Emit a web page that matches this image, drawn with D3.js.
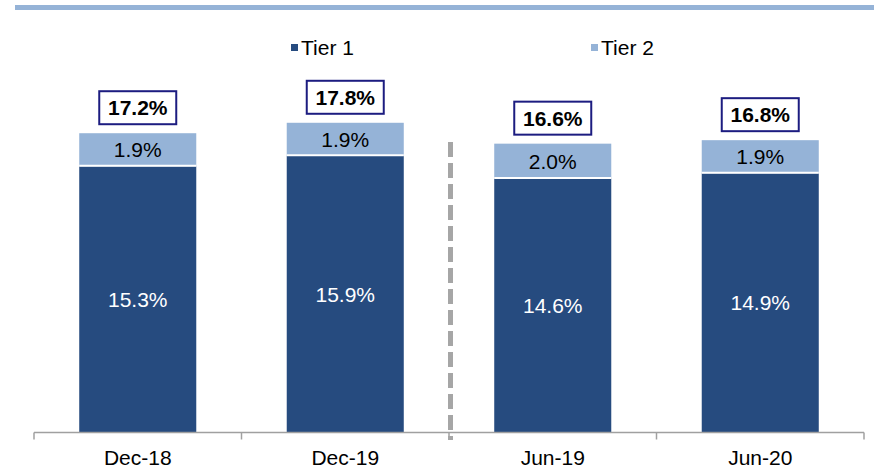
<!DOCTYPE html>
<html>
<head>
<meta charset="utf-8">
<script src="https://cdn.jsdelivr.net/npm/d3@7/dist/d3.min.js"></script>
<style>
  html, body { margin: 0; padding: 0; background: #ffffff; }
  svg { display: block; font-family: "Liberation Sans", Arial, sans-serif; }
</style>
</head>
<body>
<svg id="chart" width="874" height="470"></svg>
<script>
// Capital adequacy ratios by period
const categories = ["Dec-18", "Dec-19", "Jun-19", "Jun-20"];
const tier1 = [15.3, 15.9, 14.6, 14.9];
const tier2 = [1.9, 1.9, 2.0, 1.9];
const totals = [17.2, 17.8, 16.6, 16.8];
const seriesNames = ["Tier 1", "Tier 2"];

const colors = { tier1: "#264b7f", tier2: "#95b3d7" };
const fontSize = 21;

const svg = d3.select("#chart");
const W = 874;

const x = d3.scaleBand()
  .domain(categories)
  .range([34, 864])
  .paddingInner(0.436)
  .paddingOuter(0.218);

const y = d3.scaleLinear()
  .domain([0, 20])
  .range([432.5, 84.5]);

// Header rule
svg.append("rect")
  .attr("x", 15).attr("y", 5)
  .attr("width", W - 15).attr("height", 5)
  .attr("fill", "#95b3d7");

// Legend
const legend = svg.append("g");
const legendX = [291, 591];
seriesNames.forEach((name, i) => {
  legend.append("rect")
    .attr("x", legendX[i]).attr("y", 44)
    .attr("width", 7).attr("height", 7)
    .attr("fill", i === 0 ? colors.tier1 : colors.tier2);
  legend.append("text")
    .attr("x", legendX[i] + 10).attr("y", 55)
    .attr("font-size", fontSize)
    .attr("fill", "#000")
    .text(name);
});

const data = categories.map((c, i) => ({ c, t1: tier1[i], t2: tier2[i], total: totals[i] }));

const bars = svg.append("g").selectAll("g").data(data).join("g");

// Tier 2 segment on top of Tier 1
bars.append("rect")
  .attr("x", d => x(d.c))
  .attr("width", x.bandwidth())
  .attr("y", d => y(d.t1 + d.t2))
  .attr("height", d => y(d.t1) - y(d.t1 + d.t2))
  .attr("fill", colors.tier2);

bars.append("rect")
  .attr("x", d => x(d.c))
  .attr("width", x.bandwidth())
  .attr("y", d => y(d.t1))
  .attr("height", d => y(0) - y(d.t1))
  .attr("fill", colors.tier1);

// White separator between segments
bars.append("line")
  .attr("x1", d => x(d.c))
  .attr("x2", d => x(d.c) + x.bandwidth())
  .attr("y1", d => y(d.t1) - 0.5)
  .attr("y2", d => y(d.t1) - 0.5)
  .attr("stroke", "#ffffff")
  .attr("stroke-width", 2);

// Segment labels
bars.append("text")
  .attr("x", d => x(d.c) + x.bandwidth() / 2)
  .attr("y", d => (y(d.t1) + y(0)) / 2 + 7.5)
  .attr("text-anchor", "middle")
  .attr("font-size", fontSize)
  .attr("fill", "#ffffff")
  .text(d => d.t1.toFixed(1) + "%");

bars.append("text")
  .attr("x", d => x(d.c) + x.bandwidth() / 2)
  .attr("y", d => (y(d.t1) + y(d.t1 + d.t2)) / 2 + 7.5)
  .attr("text-anchor", "middle")
  .attr("font-size", fontSize)
  .attr("fill", "#000000")
  .text(d => d.t2.toFixed(1) + "%");

// Total boxes
const boxW = 77, boxH = 33, boxGap = 9;
bars.append("rect")
  .attr("x", d => x(d.c) + x.bandwidth() / 2 - boxW / 2)
  .attr("y", d => y(d.total) - boxGap - boxH)
  .attr("width", boxW).attr("height", boxH)
  .attr("fill", "#ffffff")
  .attr("stroke", "#1c1c80")
  .attr("stroke-width", 2);

bars.append("text")
  .attr("x", d => x(d.c) + x.bandwidth() / 2)
  .attr("y", d => y(d.total) - boxGap - boxH / 2 + 7.5)
  .attr("text-anchor", "middle")
  .attr("font-size", fontSize)
  .attr("font-weight", "bold")
  .attr("fill", "#000000")
  .text(d => d.total.toFixed(1) + "%");

// Category axis with boundary ticks
const axis = svg.append("g");
const y0 = y(0);
axis.append("line")
  .attr("x1", x.range()[0]).attr("x2", x.range()[1])
  .attr("y1", y0).attr("y2", y0)
  .attr("stroke", "#a0a0a0").attr("stroke-width", 1.5);

const boundaries = categories.map(c => x(c) - x.step() * x.paddingInner() / 2)
  .concat([x.range()[1]]);
axis.selectAll("line.tick").data(boundaries).join("line")
  .attr("class", "tick")
  .attr("x1", d => d).attr("x2", d => d)
  .attr("y1", y0).attr("y2", y0 + 7)
  .attr("stroke", "#a0a0a0").attr("stroke-width", 1.5);

axis.selectAll("text").data(categories).join("text")
  .attr("x", d => x(d) + x.bandwidth() / 2)
  .attr("y", 465)
  .attr("text-anchor", "middle")
  .attr("font-size", fontSize)
  .attr("fill", "#000000")
  .text(d => d);

// Divider between annual and half-year periods
const divX = boundaries[2] + 1.5;
svg.append("defs").append("filter")
  .attr("id", "soft")
  .attr("filterUnits", "userSpaceOnUse")
  .attr("x", divX - 10).attr("y", 130)
  .attr("width", 20).attr("height", 320)
  .append("feGaussianBlur").attr("stdDeviation", 0.6);
svg.append("line")
  .attr("x1", divX).attr("x2", divX)
  .attr("y1", 142).attr("y2", 440)
  .attr("stroke", "#a6a6a6")
  .attr("stroke-width", 5)
  .attr("stroke-dasharray", "15,6")
  .attr("filter", "url(#soft)");
</script>
</body>
</html>
